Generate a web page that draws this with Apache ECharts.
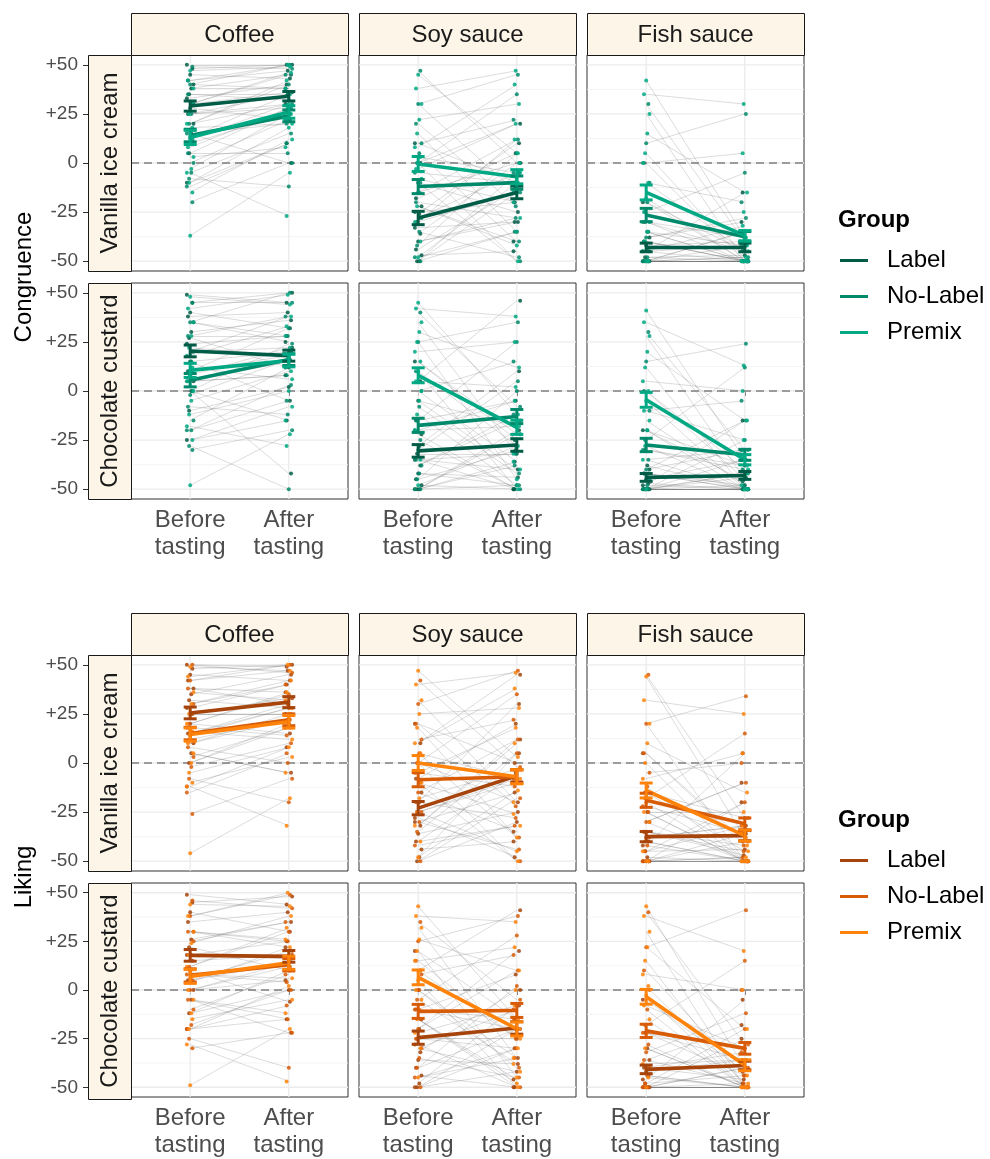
<!DOCTYPE html>
<html><head><meta charset="utf-8">
<script src="https://cdn.jsdelivr.net/npm/echarts@6/dist/echarts.min.js"></script>
<style>html,body{margin:0;padding:0;background:#fff}#c{width:990px;height:1159px}</style>
</head><body><div id="c"></div>
<script>
// ---------------- DATA ----------------
const timeLabels = ['Before\ntasting', 'After\ntasting'];
const sauces = ['Coffee', 'Soy sauce', 'Fish sauce'];
const desserts = ['Vanilla ice cream', 'Chocolate custard'];
const groups = ['Label', 'No-Label', 'Premix'];
const measures = ['Congruence', 'Liking'];
const yTicks = [-50, -25, 0, 25, 50];
const yMinor = [-37.5, -12.5, 12.5, 37.5];

// Subjects per panel: 15 Label, 15 No-Label, 15 Premix (same order in before / after)
const congVanCoffeeBefore = [50,48,45,42,40,38,35,33,30,28,25,20,15,5,-10, 49,40,35,30,25,20,15,12,10,5,0,-5,-8,-12,-20, 47,42,38,30,25,20,18,13,8,3,-3,-10,-5,-15,-37];
const congVanCoffeeAfter  = [50,50,43,47,38,45,32,40,36,22,35,30,0,28,10, 48,50,35,45,28,40,20,30,25,5,22,15,-12,10,0, 49,50,38,46,30,42,20,35,28,8,25,18,-27,12,-5];
const congVanSoyBefore = [10,0,-10,-18,-22,-26,-30,-33,-36,-40,-44,-47,-50,-50,-25, 47,30,20,10,5,0,-5,-10,-15,-20,-28,-35,-42,-48,-50, 45,38,30,22,15,8,3,0,-3,-8,-15,-22,-30,-40,-48];
const congVanSoyAfter  = [-10,20,-25,5,-40,10,-15,-30,0,-30,-13,-45,-5,-35,-20, 0,45,-22,22,-40,35,-10,-50,12,-28,-5,-48,5,-35,-15, 5,47,-15,30,-35,40,-5,-50,20,-20,0,-42,12,-28,-10];
const congVanFishBefore = [-50,-50,-50,-50,-50,-50,-48,-45,-45,-42,-40,-38,-35,-30,-20, 30,10,0,-10,-20,-25,-30,-35,-38,-40,-45,-48,-50,-50,-50, 42,35,25,15,5,0,-10,-18,-25,-30,-35,-40,-45,-50,-50];
const congVanFishAfter  = [-50,-50,-42,-50,-35,-50,-47,-15,-50,-40,-50,-30,-50,-38,-45, -40,25,-50,-20,-50,-5,-45,-50,-28,-50,-42,-50,-35,-50,-48, -38,30,-50,-15,-50,5,-45,-50,-25,-50,-42,-50,-32,-50,-48];
const congChocCoffeeBefore = [49,45,40,38,35,30,27,24,20,15,10,5,0,-10,-25, 45,35,28,20,15,10,5,0,-2,-8,-15,-20,-28,-20,-30, 48,42,35,28,22,18,12,8,5,0,-5,-12,-18,-25,-48];
const congChocCoffeeAfter  = [45,50,32,40,25,36,12,28,22,-5,18,8,-42,2,-15, 45,50,28,38,20,32,8,24,16,-12,12,3,-50,-5,-20, 44,49,28,38,18,33,6,22,15,-15,10,0,-28,-8,-22];
const congChocSoyBefore = [15,5,-5,-15,-22,-28,-32,-35,-38,-42,-45,-48,-50,-50,-50, 40,25,10,0,-8,-15,-20,-25,-30,-35,-38,-42,-45,-50,-50, 45,42,35,30,25,20,15,10,5,0,-5,-12,-20,-35,-48];
const congChocSoyAfter  = [-25,46,-40,-5,-50,10,-32,-50,-15,-44,-30,-50,-20,-48,-36, -8,35,-28,15,-42,25,-18,-50,5,-32,-12,-48,0,-38,-22, -12,38,-32,12,-45,25,-22,-50,2,-36,-18,-48,-5,-40,-28];
const congChocFishBefore = [-50,-50,-50,-50,-50,-50,-50,-48,-47,-45,-42,-40,-38,-30,-20, 30,15,0,-10,-20,-25,-30,-35,-40,-42,-45,-48,-50,-50,-50, 41,35,28,20,12,5,0,-5,-10,-15,-20,-28,-35,-42,-50];
const congChocFishAfter  = [-50,-50,-44,-50,-35,-50,-48,-15,-50,-42,-50,-30,-50,-38,-46, -30,24,-45,-5,-50,12,-40,-50,-15,-48,-35,-50,-25,-50,-42, -35,13,-45,-15,-50,0,-40,-50,-25,-48,-38,-50,-30,-50,-42];

const likVanCoffeeBefore = [50,48,45,42,38,35,32,28,25,20,15,10,5,0,-12, 50,42,38,30,25,20,18,15,12,8,3,-2,-8,-15,-26, 49,44,36,30,25,20,16,14,10,5,0,-5,-12,-10,-46];
const likVanCoffeeAfter  = [49,50,42,47,36,45,28,40,33,15,30,25,-5,20,8, 46,50,30,40,25,35,14,28,22,0,18,10,-20,5,-8, 47,50,32,42,25,36,12,28,22,-5,18,8,-32,3,-18];
const likVanSoyBefore = [20,10,0,-8,-15,-20,-25,-28,-32,-36,-40,-44,-48,-50,-30, 42,30,20,12,5,0,-5,-10,-15,-20,-25,-30,-35,-42,-50, 47,40,32,25,18,10,5,0,-5,-10,-18,-25,-32,-40,-48];
const likVanSoyAfter  = [0,45,-20,20,-35,30,-10,-48,12,-25,-5,-40,5,-30,-15, -2,47,-22,22,-38,35,-12,-50,12,-28,-8,-44,5,-32,-18, 3,46,-20,28,-38,38,-8,-50,18,-26,-3,-45,10,-32,-14];
const likVanFishBefore = [-50,-50,-50,-50,-50,-48,-45,-42,-40,-38,-35,-30,-25,-15,5, 45,20,5,-5,-12,-18,-22,-25,-30,-35,-38,-42,-45,-50,-50, 44,32,20,10,0,-8,-15,-20,-25,-30,-35,-40,-45,-50,-50];
const likVanFishAfter  = [-50,-50,-36,-50,-20,-50,-44,5,-50,-32,-47,-10,-50,-28,-40, -28,34,-42,0,-50,15,-36,-50,-10,-45,-32,-50,-20,-48,-40, -38,25,-50,-15,-50,5,-45,-50,-25,-50,-42,-50,-32,-50,-48];
const likChocCoffeeBefore = [49,45,40,35,30,26,22,18,15,10,5,0,-5,-12,-20, 46,38,30,25,18,12,8,5,0,-5,-10,-18,-25,-20,-30, 44,38,30,24,18,12,8,4,0,-5,-12,-20,-28,-15,-49];
const likChocCoffeeAfter  = [44,48,30,40,22,35,10,25,18,-6,14,5,-22,0,-15, 42,49,25,35,16,30,4,20,12,-15,8,0,-40,-8,-22, 43,50,26,38,18,32,6,22,14,-12,10,2,-47,-5,-20];
const likChocSoyBefore = [20,10,0,-10,-15,-20,-25,-28,-32,-36,-40,-44,-48,-50,-50, 35,25,15,8,0,-5,-10,-15,-20,-25,-30,-35,-40,-45,-50, 43,38,32,26,20,15,10,5,0,-5,-10,-15,-22,-30,-45];
const likChocSoyAfter  = [-15,41,-35,8,-46,20,-25,-50,0,-38,-20,-50,-8,-42,-30, -5,38,-25,18,-40,28,-15,-50,10,-30,-10,-45,2,-35,-20, -15,35,-35,10,-45,22,-25,-50,0,-38,-20,-48,-8,-42,-30];
const likChocFishBefore = [-50,-50,-50,-50,-50,-50,-48,-46,-44,-42,-40,-36,-30,-22,-5, 40,22,10,0,-10,-18,-22,-28,-32,-36,-40,-44,-48,-50,-50, 43,38,30,22,15,8,2,-3,-8,-15,-22,-30,-38,-45,-50];
const likChocFishAfter  = [-48,-50,-40,-50,-25,-50,-44,-5,-50,-36,-46,-18,-50,-30,-42, -28,41,-44,0,-50,15,-36,-50,-12,-48,-32,-50,-20,-50,-40, -40,20,-50,-20,-50,0,-48,-50,-30,-50,-44,-50,-36,-50,-50];

// Group means [before, after]; panel order: Van-Coffee, Van-Soy, Van-Fish, Choc-Coffee, Choc-Soy, Choc-Fish
const congMeanLabel   = [[29,34],[-28,-15],[-43,-43],[20.4,18],[-30.5,-27.5],[-44,-43]];
const congMeanNoLabel = [[14,24],[-12,-10],[-26.5,-37.5],[5.5,16],[-17.5,-13],[-27.5,-32.5]];
const congMeanPremix  = [[13,26],[-0.5,-7],[-15,-37],[10.5,15.5],[8,-18.5],[-4.5,-35]];
const likMeanLabel    = [[25.5,31],[-23,-6.5],[-37.5,-37],[17.8,17.3],[-24.5,-19.5],[-40.8,-38.8]];
const likMeanNoLabel  = [[15,22],[-8.5,-7],[-19,-31],[7.5,13],[-11,-10.5],[-21,-30]];
const likMeanPremix   = [[14.5,21],[0,-7],[-14,-37],[7,14],[6.5,-20],[-3.5,-38.7]];
// 95% CI half-widths [before, after]
const congCiLabel   = [[2.6,2.4],[3.4,3.2],[2.2,2.2],[3,2.8],[3.2,3.2],[2,2]];
const congCiNoLabel = [[3.2,3],[3.6,3.4],[3.4,2.6],[3.4,3],[3.6,3.6],[3.4,2.8]];
const congCiPremix  = [[3.6,3.2],[3.8,3.6],[3.8,2.6],[3.6,3.2],[3.8,3.6],[3.8,2.6]];
const likCiLabel    = [[3,2.8],[3.4,3.2],[2.6,2.6],[3,3],[3.4,3.2],[2.2,2.2]];
const likCiNoLabel  = [[3.2,3],[3.6,3.4],[3.6,3],[3.4,3.2],[3.6,3.6],[3.4,3]];
const likCiPremix   = [[3.4,3.2],[3.8,3.6],[3.8,2.8],[3.6,3.4],[3.8,3.6],[3.8,2.8]];

const greens  = ['#005C46', '#00896B', '#00A984'];
const oranges = ['#A6440B', '#D85C07', '#FF820A'];

// ---------------- BUILD ----------------
const subjBefore = [
  [congVanCoffeeBefore, congVanSoyBefore, congVanFishBefore, congChocCoffeeBefore, congChocSoyBefore, congChocFishBefore],
  [likVanCoffeeBefore, likVanSoyBefore, likVanFishBefore, likChocCoffeeBefore, likChocSoyBefore, likChocFishBefore]];
const subjAfter = [
  [congVanCoffeeAfter, congVanSoyAfter, congVanFishAfter, congChocCoffeeAfter, congChocSoyAfter, congChocFishAfter],
  [likVanCoffeeAfter, likVanSoyAfter, likVanFishAfter, likChocCoffeeAfter, likChocSoyAfter, likChocFishAfter]];
const means = [[congMeanLabel, congMeanNoLabel, congMeanPremix], [likMeanLabel, likMeanNoLabel, likMeanPremix]];
const cis = [[congCiLabel, congCiNoLabel, congCiPremix], [likCiLabel, likCiNoLabel, likCiPremix]];
const palettes = [greens, oranges];

const FONT = '"Liberation Sans", Arial, Helvetica, sans-serif';
const FS = 24;
const COLS = [131, 359, 587], PW = 217, PH = 216;
const ROW_TOPS = [[55, 283], [655, 883]];
const STRIP_H = 42, RSTRIP_W = 43;
const STRIP_FILL = '#FDF6E8';

const grids = [], xAxes = [], yAxes = [], series = [], graphics = [];
const jit = i => ((i * 5) % 7 - 3) * 1.1;

for (let f = 0; f < 2; f++) {
  for (let r = 0; r < 2; r++) {
    for (let c = 0; c < 3; c++) {
      const gi = f * 6 + r * 3 + c, p = r * 3 + c;
      grids.push({left: COLS[c], top: ROW_TOPS[f][r], width: PW, height: PH, show: true,
        borderColor: '#333333', borderWidth: 1, backgroundColor: '#ffffff', containLabel: false});
      xAxes.push({gridIndex: gi, type: 'value', min: 0.4, max: 2.6,
        axisLine: {show: false}, splitLine: {show: false},
        axisTick: {show: r === 1, customValues: [1, 2], length: 5, lineStyle: {color: '#333333'}},
        axisLabel: {show: r === 1, customValues: [1, 2], formatter: v => timeLabels[Math.round(v) - 1],
          color: '#4D4D4D', fontSize: FS, lineHeight: 27, margin: 8, fontFamily: FONT}});
      yAxes.push({gridIndex: gi, type: 'value', min: -55, max: 55, offset: c === 0 ? RSTRIP_W : 0,
        axisLine: {show: false}, splitLine: {show: false},
        axisTick: {show: c === 0, customValues: yTicks, length: 5, lineStyle: {color: '#333333'}},
        axisLabel: {show: c === 0, customValues: yTicks, formatter: v => (v > 0 ? '+' + v : String(v)),
          color: '#4D4D4D', fontSize: 19, margin: 10, fontFamily: FONT}});

      // background grid lines
      series.push({type: 'custom', xAxisIndex: gi, yAxisIndex: gi, silent: true, z: 1, clip: false,
        data: [[1, 0]], encode: {x: 0, y: 1},
        renderItem: (params, api) => {
          const ch = [];
          yMinor.forEach(v => { const a = api.coord([0.4, v]), b = api.coord([2.6, v]);
            ch.push({type: 'line', shape: {x1: a[0], y1: a[1], x2: b[0], y2: b[1]}, style: {stroke: '#F1F1F1', lineWidth: 0.8}}); });
          yTicks.forEach(v => { const a = api.coord([0.4, v]), b = api.coord([2.6, v]);
            ch.push({type: 'line', shape: {x1: a[0], y1: a[1], x2: b[0], y2: b[1]}, style: {stroke: '#EBEBEB', lineWidth: 1.3}}); });
          [1, 2].forEach(v => { const a = api.coord([v, -55]), b = api.coord([v, 55]);
            ch.push({type: 'line', shape: {x1: a[0], y1: a[1], x2: b[0], y2: b[1]}, style: {stroke: '#EBEBEB', lineWidth: 1.3}}); });
          return {type: 'group', children: ch};
        }});

      // individual subject lines
      const bef = subjBefore[f][p], aft = subjAfter[f][p];
      series.push({type: 'lines', coordinateSystem: 'cartesian2d', xAxisIndex: gi, yAxisIndex: gi, silent: true, z: 2,
        lineStyle: {color: '#555555', width: 0.7, opacity: 0.3},
        data: bef.map((b, i) => ({coords: [[1, b], [2, aft[i]]]}))});

      // dashed zero line
      series.push({type: 'custom', xAxisIndex: gi, yAxisIndex: gi, silent: true, z: 3, clip: false,
        data: [[1, 0]], encode: {x: 0, y: 1},
        renderItem: (params, api) => {
          const a = api.coord([0.4, 0]), b = api.coord([2.6, 0]);
          return {type: 'line', shape: {x1: a[0], y1: a[1], x2: b[0], y2: b[1]},
            style: {stroke: '#7F7F7F', lineWidth: 1.4, lineDash: [8, 5]}};
        }});

      // points
      groups.forEach((g, k) => {
        const col = palettes[f][k], pts = [];
        for (let i = k * 15; i < k * 15 + 15; i++) {
          pts.push({value: [1, bef[i]], symbolOffset: [jit(i), 0]});
          pts.push({value: [2, aft[i]], symbolOffset: [jit(i + 3), 0]});
        }
        series.push({type: 'scatter', name: measures[f] + ':' + g + ':pts', xAxisIndex: gi, yAxisIndex: gi,
          silent: true, z: 4, symbolSize: 4, itemStyle: {color: col, opacity: 0.85}, data: pts});
      });
      // mean lines
      groups.forEach((g, k) => {
        const col = palettes[f][k], m = means[f][k][p];
        series.push({type: 'line', name: measures[f] + ':' + g, xAxisIndex: gi, yAxisIndex: gi,
          silent: true, z: 5, symbol: 'none', showSymbol: false,
          lineStyle: {color: col, width: 3.6}, itemStyle: {color: col},
          data: [[1, m[0]], [2, m[1]]]});
      });
      // error bars
      groups.forEach((g, k) => {
        const col = palettes[f][k], m = means[f][k][p], e = cis[f][k][p];
        series.push({type: 'custom', name: measures[f] + ':' + g + ':ci', xAxisIndex: gi, yAxisIndex: gi,
          silent: true, z: 6, clip: false, encode: {x: 0, y: [1, 2]},
          data: [[1, m[0] - e[0], m[0] + e[0]], [2, m[1] - e[1], m[1] + e[1]]],
          renderItem: (params, api) => {
            const x = api.value(0), p0 = api.coord([x, api.value(1)]), p1 = api.coord([x, api.value(2)]);
            const hw = 6.5, st = {stroke: col, lineWidth: 3};
            return {type: 'group', children: [
              {type: 'line', shape: {x1: p0[0], y1: p0[1], x2: p1[0], y2: p1[1]}, style: st},
              {type: 'line', shape: {x1: p0[0] - hw, y1: p0[1], x2: p0[0] + hw, y2: p0[1]}, style: st},
              {type: 'line', shape: {x1: p1[0] - hw, y1: p1[1], x2: p1[0] + hw, y2: p1[1]}, style: st}]};
          }});
      });
    }
  }
  // column strips
  for (let c = 0; c < 3; c++) {
    const y0 = ROW_TOPS[f][0] - STRIP_H;
    graphics.push({type: 'rect', shape: {x: COLS[c] + 0.5, y: y0 + 0.5, width: PW, height: STRIP_H},
      style: {fill: STRIP_FILL, stroke: '#1A1A1A', lineWidth: 1}, z: 10});
    graphics.push({type: 'text', x: COLS[c] + PW / 2, y: y0 + STRIP_H / 2 + 1, z: 11,
      style: {text: sauces[c], fontSize: FS, fontFamily: FONT, fill: '#1A1A1A', align: 'center', verticalAlign: 'middle'}});
  }
  // row strips
  for (let r = 0; r < 2; r++) {
    const x0 = COLS[0] - RSTRIP_W, y0 = ROW_TOPS[f][r];
    graphics.push({type: 'rect', shape: {x: x0 + 0.5, y: y0 + 0.5, width: RSTRIP_W, height: PH},
      style: {fill: STRIP_FILL, stroke: '#1A1A1A', lineWidth: 1}, z: 10});
    graphics.push({type: 'text', x: x0 + RSTRIP_W / 2 + 1, y: y0 + PH / 2, rotation: Math.PI / 2, z: 11,
      style: {text: desserts[r], fontSize: FS, fontFamily: FONT, fill: '#1A1A1A', align: 'center', verticalAlign: 'middle'}});
  }
  // y axis title
  graphics.push({type: 'text', x: 24, y: (ROW_TOPS[f][0] + ROW_TOPS[f][1] + PH) / 2, rotation: Math.PI / 2, z: 11,
    style: {text: measures[f], fontSize: FS, fontFamily: FONT, fill: '#000000', align: 'center', verticalAlign: 'middle'}});
}

const chart = echarts.init(document.getElementById('c'), null, {renderer: 'canvas'});
chart.setOption({
  animation: false,
  textStyle: {fontFamily: FONT},
  title: [0, 1].map(f => ({text: 'Group', left: 833, top: f ? 803 : 203,
    textStyle: {fontSize: FS, fontWeight: 'bold', color: '#000000', fontFamily: FONT}})),
  legend: [0, 1].map(f => ({left: 835, top: f ? 842 : 242, orient: 'vertical', selectedMode: false,
    data: groups.map(g => measures[f] + ':' + g), formatter: n => n.split(':')[1],
    icon: 'path://M0,0H28V3H0Z M42,0H42.01V3H42Z', itemWidth: 42, itemHeight: 3, itemGap: 9,
    textStyle: {fontSize: FS, color: '#000000', lineHeight: 27, fontFamily: FONT}})),
  grid: grids, xAxis: xAxes, yAxis: yAxes, series: series, graphic: graphics
});
</script></body></html>
